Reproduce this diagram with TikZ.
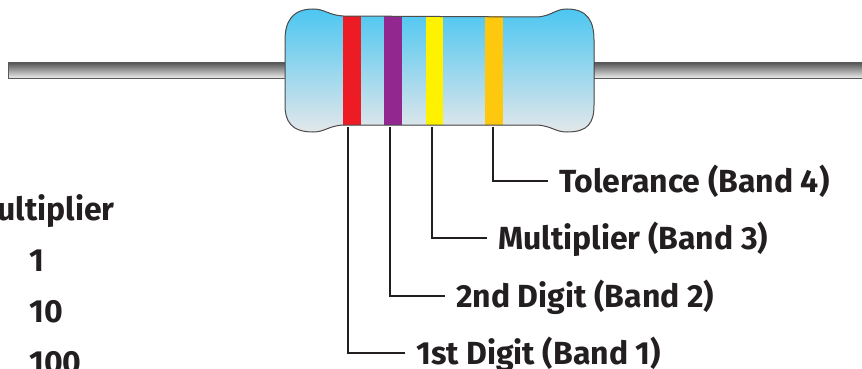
\documentclass[tikz,border=0pt]{standalone}
\usepackage{fontspec}
\setsansfont{Fira Sans}
\definecolor{ink}{HTML}{231F20}
\definecolor{bodytop}{HTML}{4CC6F1}
\definecolor{bodybot}{HTML}{E3E7EA}
\definecolor{bandred}{HTML}{ED1C24}
\definecolor{bandviolet}{HTML}{92278F}
\definecolor{bandyellow}{HTML}{FFF200}
\definecolor{bandgold}{HTML}{FEC80E}
\tikzset{
  wire/.style={line width=2.4pt, draw=ink},
  leadwire/.style={draw=black!65, line width=1pt, top color=black!65, bottom color=black!4},
  bandtag/.style={anchor=west, inner xsep=11pt, inner ysep=0pt, text height=22pt, text depth=0pt,
    font=\sffamily\bfseries\fontsize{32}{38}\selectfont, text=ink},
  tabletext/.style={inner sep=0pt, font=\sffamily\bfseries\fontsize{32}{38}\selectfont, text=ink},
}
\begin{document}
\begin{tikzpicture}[x=1pt,y=-1pt]
\useasboundingbox (0,0) rectangle (862,369);
\clip (0,0) rectangle (862,369);

% leads
\draw[leadwire] (8,63) rectangle (300,79);
\draw[leadwire] (580,63) rectangle (875,79);

% body outline
\def\bodypath{(343,16) -- (537,17) .. controls (552,16) and (555,9) .. (567,9)
  .. controls (588,9) and (594,22) .. (594,40) -- (594,105)
  .. controls (594,123) and (588,132) .. (567,132)
  .. controls (555,132) and (552,126) .. (537,125) -- (343,125)
  .. controls (328,126) and (325,132) .. (313,132)
  .. controls (291,132) and (285,121) .. (285,105) -- (285,40)
  .. controls (285,22) and (292,9) .. (313,9)
  .. controls (325,9) and (328,15) .. (343,16) -- cycle}
\fill[top color=bodytop, bottom color=bodybot] \bodypath;

% colour bands
\fill[bandred]    (343,16) rectangle (361,125);
\fill[bandviolet] (384,16) rectangle (402,125);
\fill[bandyellow] (426,16) rectangle (443,125);
\fill[bandgold]   (485,16) rectangle (503,125);
\draw[black!70, line width=1pt] \bodypath;

\coordinate (b1) at (348,127);
\coordinate (b2) at (390,127);
\coordinate (b3) at (432,127);
\coordinate (b4) at (493,127);

\node[bandtag] (t1) at (405,353) {1st Digit (Band 1)};
\node[bandtag] (t2) at (445,296) {2nd Digit (Band 2)};
\node[bandtag] (t3) at (487,238) {Multiplier (Band 3)};
\node[bandtag] (t4) at (548,181) {Tolerance (Band 4)};

\draw[wire] (b1) |- (t1.west);
\draw[wire] (b2) |- (t2.west);
\draw[wire] (b3) |- (t3.west);
\draw[wire] (b4) |- (t4.west);

% multiplier column
\node[tabletext, anchor=base east] (mhead) at (115,220) {Multiplier};
\foreach \val [count=\i] in {1,10,100}
  \node[tabletext, anchor=base west] (m\i) at (29,220+51*\i) {\val};
\end{tikzpicture}
\end{document}
